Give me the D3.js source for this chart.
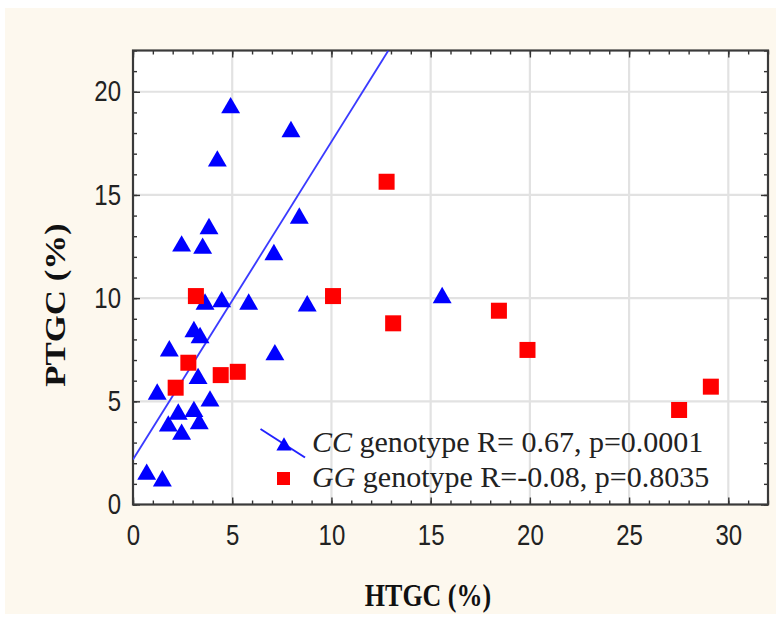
<!DOCTYPE html>
<html><head><meta charset="utf-8">
<script src="https://cdn.jsdelivr.net/npm/d3@7"></script>
<style>body{margin:0;background:#fff}svg{display:block}</style>
</head><body>
<svg id="c" width="776" height="622"></svg>
<script>
const ccX = [4.92,7.96,4.25,8.38,3.83,2.45,3.51,7.10,3.63,4.47,5.83,8.78,15.58,3.07,3.38,1.83,7.15,3.28,1.22,3.88,2.28,3.07,1.78,3.34,2.45,0.69,1.48];
const ccY = [19.27,18.11,16.69,13.92,13.41,12.57,12.46,12.15,9.75,9.87,9.75,9.67,10.07,8.42,8.13,7.49,7.30,6.15,5.39,5.06,4.42,4.55,3.85,3.96,3.45,1.51,1.19];
const ggX = [12.78,3.17,10.08,13.11,18.44,19.88,2.79,4.42,5.28,2.15,27.52,29.12];
const ggY = [15.64,10.10,10.10,8.78,9.39,7.49,6.87,6.27,6.43,5.66,4.58,5.71];
const fitIntercept = 2.18, fitSlope = 1.54;
const xTicks = [0,5,10,15,20,25,30];
const yTicks = [0,5,10,15,20];
const legendLabels = [["CC"," genotype R= 0.67, p=0.0001"],["GG"," genotype R=-0.08, p=0.8035"]];

const svg = d3.select("#c");
svg.append("rect").attr("x",5).attr("y",8).attr("width",771).attr("height",606).attr("fill","#fdf8ee");

const L=133, R=768, T=50.5, B=504.5;
const x = d3.scaleLinear().domain([0,32]).range([L,R]);
const y = d3.scaleLinear().domain([0,22]).range([B,T]);

svg.append("rect").attr("x",L).attr("y",T).attr("width",R-L).attr("height",B-T).attr("fill","#fff");

// grid
const g = svg.append("g");
g.selectAll(".gx").data(xTicks.filter(d=>d>0)).join("line")
 .attr("x1",d=>x(d)).attr("x2",d=>x(d)).attr("y1",T).attr("y2",B)
 .attr("stroke","#e2e2e2").attr("stroke-width",2.2);
g.selectAll(".gy").data(yTicks.filter(d=>d>0)).join("line")
 .attr("y1",d=>y(d)).attr("y2",d=>y(d)).attr("x1",L).attr("x2",R)
 .attr("stroke","#e2e2e2").attr("stroke-width",2.2);

// axes with inward ticks
const minorX = d3.range(0,33,1), minorY = d3.range(0,23,1);
function tickAxis(axis, pos, vals, size){
  svg.append("g").attr("transform",pos).call(axis.tickValues(vals).tickSize(size).tickFormat(""))
   .call(s=>s.select(".domain").remove())
   .call(s=>s.selectAll("line").attr("stroke","#333").attr("stroke-width",1.4));
}
tickAxis(d3.axisTop(x), `translate(0,${B})`, minorX, 4);
tickAxis(d3.axisTop(x), `translate(0,${B})`, xTicks, 7);
tickAxis(d3.axisBottom(x), `translate(0,${T})`, minorX, 4);
tickAxis(d3.axisBottom(x), `translate(0,${T})`, xTicks, 7);
tickAxis(d3.axisRight(y), `translate(${L},0)`, minorY, 4);
tickAxis(d3.axisRight(y), `translate(${L},0)`, yTicks, 7);
tickAxis(d3.axisLeft(y), `translate(${R},0)`, minorY, 4);
tickAxis(d3.axisLeft(y), `translate(${R},0)`, yTicks, 7);

// tick labels (slightly tall glyphs as in the reference)
const xa = svg.append("g").attr("transform",`translate(0,${B})`)
  .call(d3.axisBottom(x).tickValues(xTicks).tickSize(0).tickPadding(17));
xa.select(".domain").remove();
xa.selectAll("text").attr("font-family","'Liberation Sans',Arial,sans-serif").attr("font-size",24).attr("fill","#222")
  .attr("transform","scale(1,1.2)");
const ya = svg.append("g").attr("transform",`translate(${L},0)`)
  .call(d3.axisLeft(y).tickValues(yTicks).tickSize(0).tickPadding(12));
ya.select(".domain").remove();
ya.selectAll("text").attr("font-family","'Liberation Sans',Arial,sans-serif").attr("font-size",24).attr("fill","#222")
  .attr("transform","scale(1,1.2)");

// border
svg.append("rect").attr("x",L).attr("y",T).attr("width",R-L).attr("height",B-T)
 .attr("fill","none").attr("stroke","#3a3a3a").attr("stroke-width",2.2);

// fit line clipped
svg.append("clipPath").attr("id","pc").append("rect").attr("x",L).attr("y",T).attr("width",R-L).attr("height",B-T);
const xEnd = (22-fitIntercept)/fitSlope;
svg.append("line").attr("clip-path","url(#pc)")
 .attr("x1",x(0)).attr("y1",y(fitIntercept)).attr("x2",x(xEnd)).attr("y2",y(22))
 .attr("stroke","#3a3aff").attr("stroke-width",1.8);

const tri = d3.symbol().type(d3.symbolTriangle).size(155);
const ccData = ccX.map((v,i)=>[v,ccY[i]]);
const ggData = ggX.map((v,i)=>[v,ggY[i]]);
svg.append("g").selectAll("path").data(ccData).join("path")
 .attr("d",tri).attr("transform",d=>`translate(${x(d[0])},${y(d[1])+1})`).attr("fill","#0000ff");
const sq = 16;
svg.append("g").selectAll("rect").data(ggData).join("rect")
 .attr("x",d=>x(d[0])-sq/2).attr("y",d=>y(d[1])-sq/2).attr("width",sq).attr("height",sq).attr("fill","#ff0000");

// legend
const lg = svg.append("g");
lg.append("line").attr("x1",260.5).attr("y1",429).attr("x2",305).attr("y2",457.5).attr("stroke","#2222ff").attr("stroke-width",2);
lg.append("path").attr("d",d3.symbol().type(d3.symbolTriangle).size(100)).attr("transform","translate(284,446)").attr("fill","#0000ff");
lg.append("rect").attr("x",277).attr("y",472).attr("width",13).attr("height",13).attr("fill","#ff0000");
legendLabels.forEach((lab,i)=>{
  const t = lg.append("text").attr("x",312).attr("y",452+i*35)
   .attr("font-family","'Liberation Serif','Times New Roman',serif").attr("font-size",30).attr("fill","#222");
  t.append("tspan").attr("font-style","italic").text(lab[0]);
  t.append("tspan").text(lab[1]);
});

// axis titles
svg.append("text").attr("transform","translate(428,606) scale(1,1.18)").attr("text-anchor","middle")
 .attr("font-family","'Liberation Serif','Times New Roman',serif").attr("font-weight","bold").attr("font-size",26).attr("fill","#111").text("HTGC (%)");
svg.append("text").attr("transform","translate(65,305) scale(1,1.2) rotate(-90)").attr("text-anchor","middle")
 .attr("font-family","'Liberation Serif','Times New Roman',serif").attr("font-weight","bold").attr("font-size",29).attr("fill","#111").text("PTGC (%)");
</script>
</body></html>
